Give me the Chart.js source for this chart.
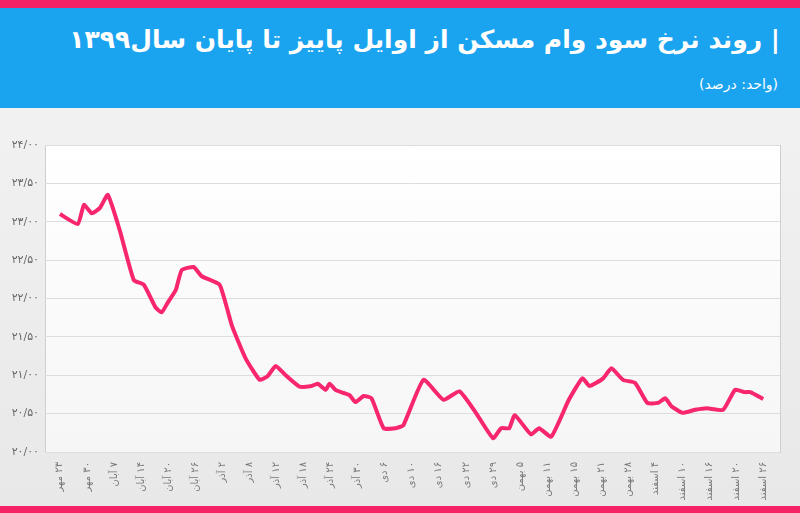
<!DOCTYPE html>
<html><head><meta charset="utf-8">
<script src="https://cdn.jsdelivr.net/npm/chart.js@4"></script>
<style>
html,body{margin:0;padding:0;}
body{width:800px;height:513px;position:relative;overflow:hidden;background:linear-gradient(#f4f4f4,#e8e8e8);font-family:"DejaVu Sans","Noto Sans",sans-serif;}
#top{position:absolute;left:0;top:0;width:800px;height:8px;background:#f52266;}
#hdr{position:absolute;left:0;top:8px;width:800px;height:100px;background:#1aa3ef;color:#fff;direction:rtl;}
#t1{position:absolute;right:20px;top:17px;font-size:25px;font-weight:bold;white-space:nowrap;}
#t2{position:absolute;right:22px;top:68px;font-size:14px;white-space:nowrap;}
#bot{position:absolute;left:0;top:506px;width:800px;height:7px;background:#f52266;}
#wrap{position:absolute;left:0;top:108px;width:800px;height:405px;}
</style></head><body>
<div id="top"></div>
<div id="hdr"><div id="t1">| روند نرخ سود وام مسکن از اوایل پاییز تا پایان سال۱۳۹۹</div><div id="t2">(واحد: درصد)</div></div>
<div id="wrap"><canvas id="c"></canvas></div>
<div id="bot"></div>
<script>
const tickLabels=["۲۳ مهر","۳۰ مهر","۷ آبان","۱۴ آبان","۲۰ آبان","۲۶ آبان","۲ آذر","۸ آذر","۱۲ آذر","۱۸ آذر","۲۴ آذر","۳۰ آذر","۶ دی","۱۰ دی","۱۶ دی","۲۲ دی","۲۹ دی","۵ بهمن","۱۱ بهمن","۱۵ بهمن","۲۱ بهمن","۲۸ بهمن","۴ اسفند","۱۰ اسفند","۱۶ اسفند","۲۰ اسفند","۲۶ اسفند"];
const xPos=[0,0.66,0.89,1.18,1.48,1.77,2.21,2.73,3.1,3.54,3.76,3.99,4.28,4.5,4.94,5.24,5.9,6.35,6.86,7.38,7.68,7.97,8.34,8.86,9.3,9.52,9.82,9.96,10.18,10.48,10.7,10.92,11.22,11.51,11.96,12.4,12.69,13.43,14.17,14.76,15.35,16.0,16.3,16.6,16.8,17.4,17.7,18.15,18.8,19.3,19.56,20.07,20.37,20.8,21.25,21.7,22.1,22.36,22.58,23.0,23.47,23.9,24.5,24.94,25.3,25.5,25.98];
const rates=[23.10,22.97,23.22,23.11,23.18,23.35,22.89,22.24,22.18,21.88,21.82,21.95,22.11,22.37,22.41,22.29,22.18,21.65,21.22,20.94,20.99,21.12,21.0,20.85,20.86,20.89,20.81,20.89,20.81,20.77,20.74,20.65,20.73,20.70,20.31,20.31,20.35,20.94,20.68,20.79,20.52,20.18,20.31,20.31,20.48,20.23,20.31,20.20,20.68,20.96,20.86,20.96,21.09,20.94,20.9,20.64,20.64,20.70,20.60,20.51,20.55,20.57,20.55,20.81,20.78,20.78,20.69];
const fa=s=>String(s).replace(/\d/g,d=>"۰۱۲۳۴۵۶۷۸۹"[d]);
const bg={id:'bg',beforeDraw(ch){const a=ch.chartArea,c=ch.ctx;const g=c.createLinearGradient(0,a.top,0,a.bottom);g.addColorStop(0,'#ffffff');g.addColorStop(1,'#f6f6f6');c.save();c.fillStyle=g;c.fillRect(a.left,a.top,a.right-a.left,a.bottom-a.top);c.strokeStyle='#cfcfcf';c.lineWidth=1;c.strokeRect(a.left+0.5,a.top+0.5,a.right-a.left,a.bottom-a.top);c.restore();}};
new Chart(document.getElementById('c'),{type:'line',
data:{datasets:[{data:xPos.map((x,i)=>({x:x,y:rates[i]})),borderColor:'#f7266f',borderWidth:4,pointRadius:0,tension:0.15,fill:false}]},
options:{responsive:true,maintainAspectRatio:false,animation:false,
layout:{padding:{top:37,right:20,left:0,bottom:0}},
plugins:{legend:{display:false},tooltip:{enabled:false}},
scales:{
x:{type:'linear',min:-0.55,max:26.6,afterBuildTicks(s){s.ticks=tickLabels.map((_,i)=>({value:i}));},
 afterFit(s){s.height=61;},
 grid:{display:false},border:{display:false},
 ticks:{autoSkip:false,maxRotation:90,minRotation:90,padding:2,color:'#777',font:{size:10,family:'DejaVu Sans'},
  callback:(v)=>{const p=tickLabels[v].split(' ');return '\u200E'+p[1]+'\u200E \u200E'+p[0];}}},
y:{min:20,max:24,afterFit(s){s.width=45;},
 grid:{color:'#dddddd',drawTicks:false},border:{display:false},
 ticks:{stepSize:0.5,padding:6,color:'#666',font:{size:11,family:'DejaVu Sans'},callback:v=>fa(Math.floor(v))+'/'+fa(((v%1)*100).toFixed(0).padStart(2,'0'))}}
}},plugins:[bg]});
</script></body></html>
